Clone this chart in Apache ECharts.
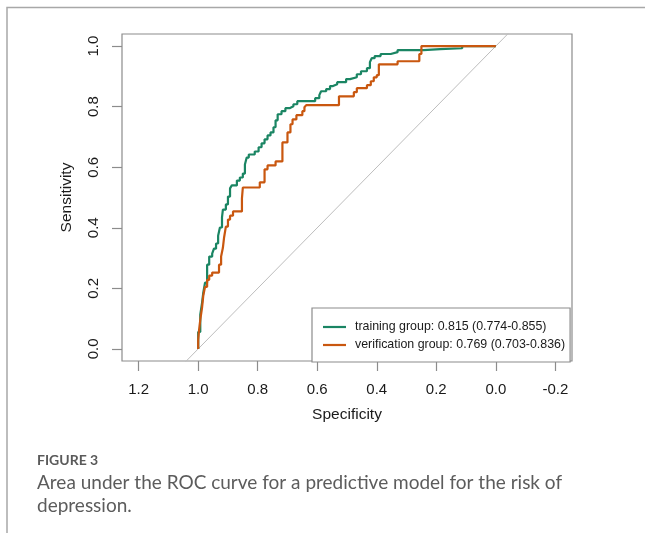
<!DOCTYPE html>
<html>
<head>
<meta charset="utf-8">
<script src="https://cdn.jsdelivr.net/npm/echarts@6/dist/echarts.min.js"></script>
<style>
  html, body { margin: 0; padding: 0; background: #fff; }
  #main { width: 645px; height: 533px; }
</style>
</head>
<body>
<div id="main"></div>
<script>
// tick labels
var specTicks = [-0.2, 0.0, 0.2, 0.4, 0.6, 0.8, 1.0, 1.2];
var sensTicks = [0.0, 0.2, 0.4, 0.6, 0.8, 1.0];

// training group: specificity / sensitivity at each step
var trainSpec = [1.000, 0.993, 0.987, 0.983, 0.977, 0.970, 0.963, 0.953, 0.947, 0.940,
    0.933, 0.927, 0.920, 0.917, 0.907, 0.900, 0.893, 0.887, 0.870, 0.860,
    0.850, 0.843, 0.837, 0.830, 0.810, 0.797, 0.787, 0.777, 0.767, 0.757,
    0.747, 0.740, 0.733, 0.720, 0.707, 0.693, 0.680, 0.667, 0.607, 0.593,
    0.587, 0.570, 0.557, 0.547, 0.533, 0.503, 0.490, 0.467, 0.453, 0.433,
    0.423, 0.417, 0.407, 0.387, 0.353, 0.330, 0.243, 0.187, 0.113];
var trainSens = [0.056, 0.113, 0.152, 0.185, 0.219, 0.278, 0.305, 0.315, 0.331, 0.348,
    0.374, 0.401, 0.434, 0.460, 0.477, 0.503, 0.530, 0.540, 0.556, 0.566,
    0.579, 0.609, 0.632, 0.642, 0.652, 0.666, 0.679, 0.692, 0.705, 0.715,
    0.732, 0.755, 0.775, 0.785, 0.795, 0.801, 0.808, 0.818, 0.828, 0.838,
    0.851, 0.858, 0.868, 0.874, 0.881, 0.891, 0.897, 0.907, 0.917, 0.927,
    0.947, 0.960, 0.967, 0.974, 0.980, 0.987, 0.990, 0.993, 1.000];

// verification group
var verifSpec = [1.000, 0.997, 0.993, 0.987, 0.983, 0.977, 0.970, 0.963, 0.953, 0.930,
    0.923, 0.917, 0.913, 0.907, 0.900, 0.893, 0.883, 0.853, 0.850, 0.793,
    0.777, 0.767, 0.740, 0.717, 0.700, 0.690, 0.683, 0.670, 0.650, 0.643,
    0.637, 0.527, 0.477, 0.467, 0.433, 0.420, 0.410, 0.400, 0.393, 0.330,
    0.257, 0.250];
var verifSens = [0.030, 0.063, 0.096, 0.136, 0.175, 0.205, 0.228, 0.242, 0.252, 0.278,
    0.305, 0.334, 0.368, 0.404, 0.427, 0.440, 0.454, 0.497, 0.533, 0.550,
    0.593, 0.606, 0.619, 0.682, 0.715, 0.742, 0.758, 0.772, 0.785, 0.798,
    0.805, 0.834, 0.848, 0.861, 0.871, 0.884, 0.897, 0.904, 0.940, 0.950,
    0.974, 1.000];

var trainName = 'training group: 0.815 (0.774-0.855)';
var verifName = 'verification group: 0.769 (0.703-0.836)';

// staircase: up at each specificity, then across to the next one
function steps(spec, sens) {
    var pts = [[1, 0]];
    var prev = 0;
    for (var i = 0; i < spec.length; i++) {
        pts.push([spec[i], prev]);
        pts.push([spec[i], sens[i]]);
        prev = sens[i];
    }
    pts.push([0, prev]);
    return pts;
}

var myChart = echarts.init(document.getElementById('main'));
var fmt = function (v) { return Number(v).toFixed(1); };

var option = {
    backgroundColor: '#fff',
    animation: false,
    textStyle: { fontFamily: 'Liberation Sans, Arial, sans-serif' },
    grid: {
        left: 122, right: 73, top: 34, bottom: 172,
        show: true, borderColor: '#8c8c8c', borderWidth: 1.2
    },
    legend: {
        data: [trainName, verifName],
        orient: 'vertical',
        left: 312, top: 308,
        padding: [12, 5, 10, 11],
        icon: 'rect',
        itemWidth: 23, itemHeight: 2.2, itemGap: 4,
        borderColor: '#8c8c8c', borderWidth: 1.2,
        backgroundColor: '#fff',
        textStyle: { fontSize: 12.4, color: '#1a1a1a', padding: [0, 0, 0, 4], lineHeight: 14,
            fontFamily: 'Liberation Sans, Arial, sans-serif' }
    },
    xAxis: {
        type: 'value', inverse: true, min: -0.256, max: 1.256,
        name: 'Specificity', nameLocation: 'middle', nameGap: 46,
        nameTextStyle: { fontSize: 15.5, color: '#1a1a1a' },
        axisLine: { show: false, onZero: false },
        splitLine: { show: false },
        axisTick: { show: true, length: 10, inside: false, customValues: specTicks,
            lineStyle: { color: '#8c8c8c', width: 1.2 } },
        axisLabel: { customValues: specTicks, formatter: fmt, margin: 21,
            fontSize: 15, color: '#1a1a1a' }
    },
    yAxis: {
        type: 'value', min: -0.04, max: 1.04,
        name: 'Sensitivity', nameLocation: 'middle', nameGap: 47,
        nameTextStyle: { fontSize: 15.5, color: '#1a1a1a' },
        axisLine: { show: false, onZero: false },
        splitLine: { show: false },
        axisTick: { show: true, length: 10, inside: false, customValues: sensTicks,
            lineStyle: { color: '#8c8c8c', width: 1.2 } },
        axisLabel: { customValues: sensTicks, formatter: fmt, margin: 21, rotate: 90,
            fontSize: 15, color: '#1a1a1a' }
    },
    series: [
        {
            name: 'diag',
            type: 'line',
            data: [[1.3, -0.3], [-0.3, 1.3]],
            showSymbol: false, symbol: 'none',
            lineStyle: { color: '#bdbdbd', width: 1 },
            silent: true, z: 1
        },
        {
            name: trainName,
            type: 'line',
            data: steps(trainSpec, trainSens),
            symbol: 'none',
            color: '#1a8563',
            lineStyle: { color: '#1a8563', width: 2.2 },
            z: 2
        },
        {
            name: verifName,
            type: 'line',
            data: steps(verifSpec, verifSens),
            symbol: 'none',
            color: '#c9570f',
            lineStyle: { color: '#c9570f', width: 2.2 },
            z: 3
        }
    ],
    graphic: [
        {
            type: 'polyline',
            shape: { points: [[7, 533], [7, 7.5], [645, 7.5]] },
            style: { stroke: '#a8a8a8', lineWidth: 1.5, fill: null },
            silent: true
        },
        {
            type: 'text', left: 37, top: 453,
            style: { text: 'FIGURE 3', fontSize: 14, fontWeight: 'bold', fill: '#5a5a5a',
                fontFamily: 'Lato, Open Sans, sans-serif' }
        },
        {
            type: 'text', left: 37, top: 471,
            style: { text: 'Area under the ROC curve for a predictive model for the risk of\ndepression.',
                fontSize: 19, lineHeight: 23, fill: '#5c5c5c',
                fontFamily: 'Lato, Open Sans, sans-serif' }
        }
    ]
};
myChart.setOption(option);
</script>
</body>
</html>
